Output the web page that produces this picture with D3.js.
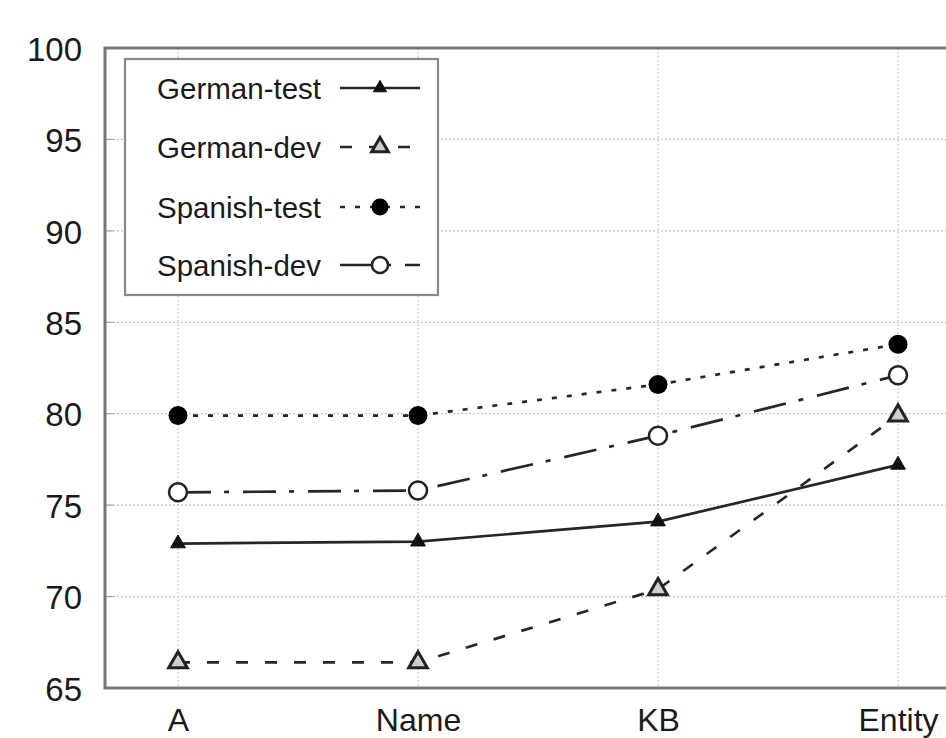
<!DOCTYPE html>
<html>
<head>
<meta charset="utf-8">
<script src="https://cdn.jsdelivr.net/npm/d3@7"></script>
<style>
  html, body { margin: 0; padding: 0; background: #fff; }
  svg { display: block; font-family: "Liberation Sans", Arial, Helvetica, sans-serif; }
</style>
</head>
<body>
<svg id="chart" width="946" height="738"></svg>
<script>
const categories = ["A", "Name", "KB", "Entity"];
const yTicks = [65, 70, 75, 80, 85, 90, 95, 100];
const seriesNames = ["German-test", "German-dev", "Spanish-test", "Spanish-dev"];
const germanTest = [72.9, 73.0, 74.1, 77.2];
const germanDev = [66.4, 66.4, 70.4, 79.9];
const spanishTest = [79.9, 79.9, 81.6, 83.8];
const spanishDev = [75.7, 75.8, 78.8, 82.1];

(function () {
const series = [
  { name: seriesNames[0], values: germanTest, dash: null, marker: "triFilled" },
  { name: seriesNames[1], values: germanDev, dash: "12,17", marker: "triOpen" },
  { name: seriesNames[2], values: spanishTest, dash: "5,10", marker: "circFilled" },
  { name: seriesNames[3], values: spanishDev, dash: "33,13,5,14", marker: "circOpen" }
];

const svg = d3.select("#chart");
const pLeft = 105, pTop = 48, pBottom = 688, pRight = 971;

const x = d3.scalePoint().domain(categories).range([178, 898]);
const y = d3.scaleLinear().domain([65, 100]).range([pBottom, pTop]);

// grid
const grid = svg.append("g");
grid.selectAll("line.h").data(yTicks.slice(1, -1)).enter().append("line")
  .attr("x1", pLeft).attr("x2", pRight)
  .attr("y1", d => y(d)).attr("y2", d => y(d))
  .attr("stroke", "#c4c4c4").attr("stroke-width", 1.3).attr("stroke-dasharray", "2,2");
grid.selectAll("line.v").data(categories).enter().append("line")
  .attr("x1", d => x(d)).attr("x2", d => x(d))
  .attr("y1", pTop).attr("y2", pBottom)
  .attr("stroke", "#d0d0d0").attr("stroke-width", 1.3).attr("stroke-dasharray", "2,2");

// y axis labels
const yAxis = d3.axisLeft(y).tickValues(yTicks).tickSize(0).tickPadding(23);
const ya = svg.append("g").attr("transform", `translate(${pLeft},0)`).call(yAxis);
ya.select(".domain").remove();
ya.selectAll("text").attr("font-size", 33).attr("fill", "#1a1a1a")
  .attr("font-family", "Liberation Sans, Arial, sans-serif").attr("dy", "0.37em");

// x axis labels
const xAxis = d3.axisBottom(x).tickSize(0);
const xa = svg.append("g").attr("transform", `translate(0,${pBottom})`).call(xAxis);
xa.select(".domain").remove();
xa.selectAll("text").attr("font-size", 32).attr("fill", "#1a1a1a")
  .attr("font-family", "Liberation Sans, Arial, sans-serif")
  .attr("y", 43).attr("dy", 0);

// small tick marks
svg.append("g").selectAll("line").data(yTicks.slice(1, -1)).enter().append("line")
  .attr("x1", pLeft).attr("x2", pLeft + 8).attr("y1", d => y(d)).attr("y2", d => y(d))
  .attr("stroke", "#999").attr("stroke-width", 1);

// frame
svg.append("rect").attr("x", pLeft).attr("y", pTop).attr("width", pRight - pLeft).attr("height", pBottom - pTop)
  .attr("fill", "none").attr("stroke", "#777").attr("stroke-width", 3);

const line = d3.line().x((d, i) => x(categories[i])).y(d => y(d));

function drawMarker(g, type, cx, cy, scale) {
  const k = scale || 1;
  if (type === "triFilled") {
    g.append("path").attr("d", d3.symbol().type(d3.symbolTriangle).size(95 * k)())
      .attr("transform", `translate(${cx},${cy})`).attr("fill", "#111")
      .attr("stroke", "#111").attr("stroke-width", 1);
  } else if (type === "triOpen") {
    g.append("path").attr("d", d3.symbol().type(d3.symbolTriangle).size(150 * k)())
      .attr("transform", `translate(${cx},${cy})`).attr("fill", "#cfcfcf")
      .attr("stroke", "#222").attr("stroke-width", 3);
  } else if (type === "circFilled") {
    g.append("circle").attr("cx", cx).attr("cy", cy).attr("r", 9.5 * Math.sqrt(k)).attr("fill", "#000");
  } else {
    g.append("circle").attr("cx", cx).attr("cy", cy).attr("r", 9 * Math.sqrt(k)).attr("fill", "#fff")
      .attr("stroke", "#222").attr("stroke-width", 2.5);
  }
}

const plot = svg.append("g");
series.forEach(s => {
  plot.append("path").datum(s.values).attr("d", line)
    .attr("fill", "none").attr("stroke", "#262626").attr("stroke-width", 2.7)
    .attr("stroke-dasharray", s.dash);
});
series.forEach(s => {
  s.values.forEach((v, i) => drawMarker(plot, s.marker, x(categories[i]), y(v)));
});

// legend
const lg = svg.append("g");
lg.append("rect").attr("x", 125).attr("y", 59).attr("width", 313).attr("height", 236)
  .attr("fill", "#fff").attr("stroke", "#888").attr("stroke-width", 2.2);
const rowY = [88, 147, 207, 265];
series.forEach((s, i) => {
  lg.append("text").attr("x", 321).attr("y", rowY[i]).attr("dy", "0.36em")
    .attr("text-anchor", "end")
    .attr("font-size", 29.5).attr("fill", "#1a1a1a").text(s.name);
  lg.append("line").attr("x1", 340).attr("x2", 420).attr("y1", rowY[i]).attr("y2", rowY[i])
    .attr("stroke", "#262626").attr("stroke-width", 2.7).attr("stroke-dasharray", s.dash);
  drawMarker(lg, s.marker, 380, rowY[i], 0.8);
});
})();
</script>
</body>
</html>
